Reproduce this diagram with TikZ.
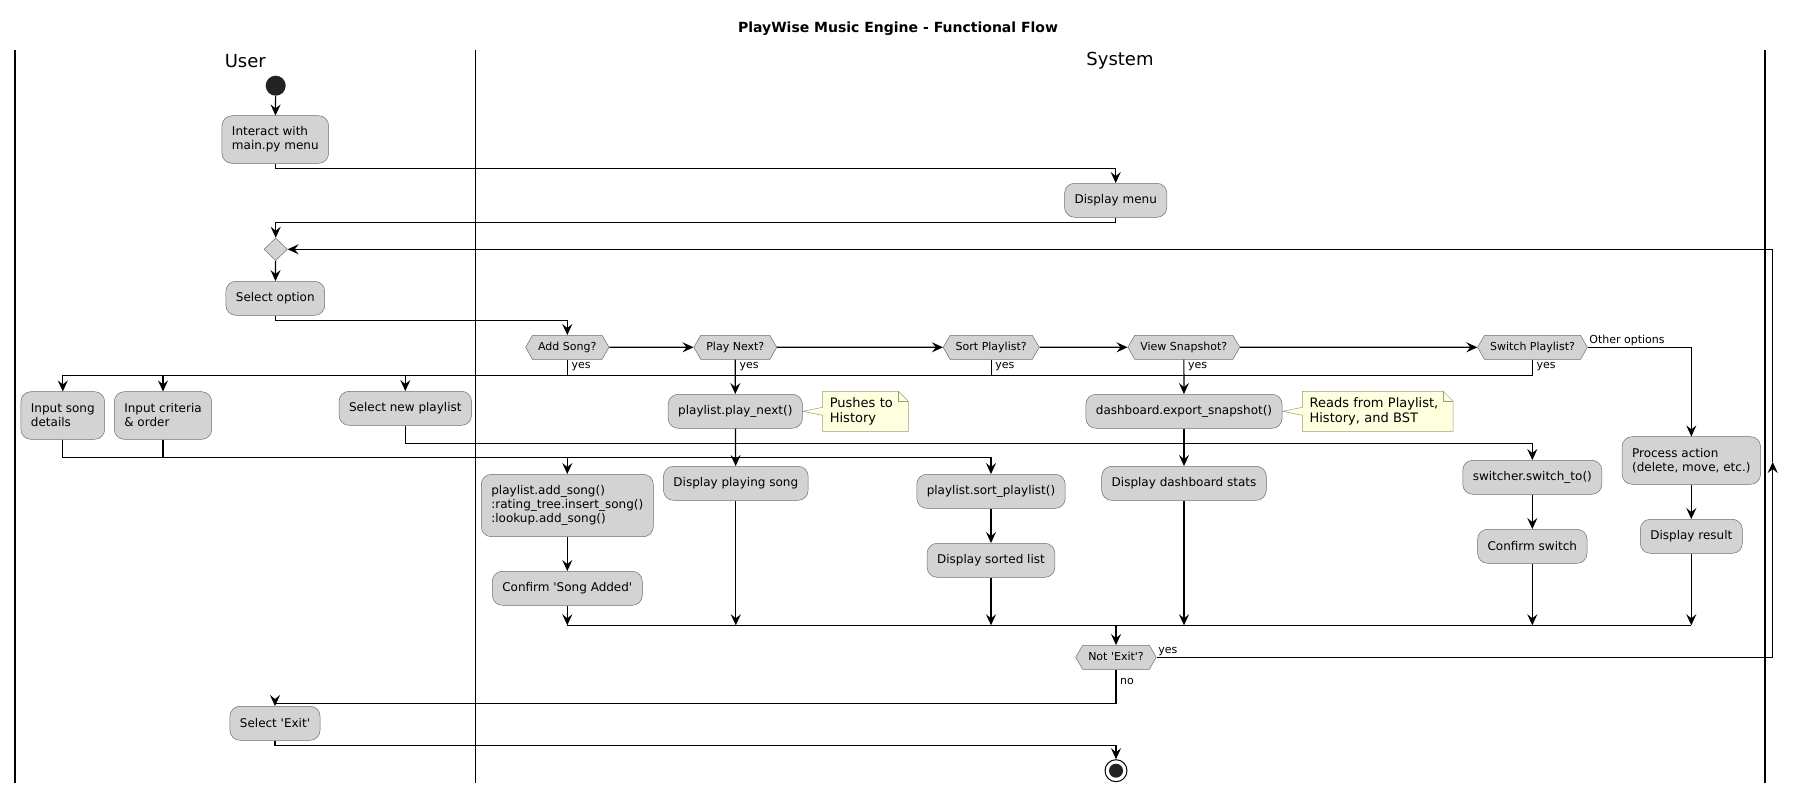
\documentclass[tikz,border=0pt]{standalone}
\usepackage{fontspec}
\setmainfont{DejaVu Sans}
\usepackage{xcolor}
\usepackage{tikz}
\usetikzlibrary{shapes.geometric, shapes.symbols, arrows.meta, positioning, calc, backgrounds}
\definecolor{actfill}{HTML}{D3D3D3}
\definecolor{actline}{HTML}{6E6E6E}
\definecolor{notefill}{HTML}{FEFFDD}
\definecolor{noteline}{HTML}{9A9A86}
\definecolor{dotblack}{HTML}{222222}
\newcommand{\squote}{\textquotesingle}

\begin{document}
\begin{tikzpicture}[
    x=1pt, y=-1pt,
    every node/.style={font=\fontsize{12}{14}\selectfont},
    act/.style={
        rectangle,
        rounded corners=10pt,
        draw=actline,
        fill=actfill,
        line width=0.5pt,
        inner xsep=10pt,
        inner ysep=0pt,
        minimum height=34pt,
        align=left
    },
    ask/.style={
        signal,
        signal to=east and west,
        signal pointer angle=120,
        draw=actline,
        fill=actfill,
        line width=0.5pt,
        font=\fontsize{11}{13}\selectfont,
        inner xsep=5.6pt,
        inner ysep=6.75pt,
        text height=8pt,
        text depth=2.5pt
    },
    merger/.style={
        diamond,
        draw=actline,
        fill=actfill,
        line width=0.5pt,
        inner sep=0pt,
        minimum width=23.4pt,
        minimum height=22.6pt
    },
    note/.style={
        inner xsep=7pt,
        inner ysep=0pt,
        minimum height=39.6pt,
        align=left,
        font=\fontsize{13}{15.3}\selectfont
    },
    tag/.style={font=\fontsize{11}{13}\selectfont, inner sep=1.5pt},
    lanetitle/.style={font=\fontsize{18}{21}\selectfont},
    flow/.style={
        -{Stealth[length=11pt, width=10pt, inset=4pt]},
        line width=1.2pt
    },
    wire/.style={line width=1.2pt},
    lane/.style={line width=1.6pt}
]
\useasboundingbox (0,0) rectangle (1797,793);

% Title and lanes
\node[font=\fontsize{14}{17}\selectfont\bfseries] (title) at (898,28.3) {PlayWise Music Engine - Functional Flow};
\node[lanetitle] (user) at (245.3,60.7) {User};
\node[lanetitle] (system) at (1120,60.7) {System};
\draw[lane] (15,50) -- (15,783);
\draw[lane] (475.5,50) -- (475.5,783);
\draw[lane] (1765,50) -- (1765,783);

% Start and menu
\node[circle, fill=dotblack, minimum size=20pt, inner sep=0pt] (start) at (275.7,85.7) {};
\node[act, minimum height=47.6pt] (interact) at (275.3,139.5) {Interact with\\main.py menu};
\node[act] (menu) at (1115.7,200.3) {Display menu};
\node[merger] (merge) at (275.7,249.3) {};
\node[act] (selopt) at (275.3,298.3) {Select option};

\draw[flow] (start) -- (interact);
\draw[flow] (interact.south) -- ++(0,4.8) -| (menu.north);
\draw[flow] (menu.south) -- ++(0,5) -| (merge.north);
\draw[flow] (merge) -- (selopt);

% Chain of questions
\node[ask] (addq) at (567.3,347.3) {Add Song?};
\node[ask] (playq) at (735.3,347.3) {Play Next?};
\node[ask] (sortq) at (991.2,347.3) {Sort Playlist?};
\node[ask] (viewq) at (1183.8,347.3) {View Snapshot?};
\node[ask] (switchq) at (1532.5,347.3) {Switch Playlist?};

\draw[flow] (selopt.south) -- ++(0,5) -| (addq.north);
\draw[flow] (addq) -- (playq);
\draw[flow] (playq) -- (sortq);
\draw[flow] (sortq) -- (viewq);
\draw[flow] (viewq) -- (switchq);

\node[tag, anchor=north west, xshift=2.5pt, yshift=-1pt] (yesadd) at (addq.south) {yes};
\node[tag, anchor=north west, xshift=2.5pt, yshift=-1pt] (yesplay) at (playq.south) {yes};
\node[tag, anchor=north west, xshift=2.5pt, yshift=-1pt] (yessort) at (sortq.south) {yes};
\node[tag, anchor=north west, xshift=2.5pt, yshift=-1pt] (yesview) at (viewq.south) {yes};
\node[tag, anchor=north west, xshift=2.5pt, yshift=-1pt] (yesswitch) at (switchq.south) {yes};
\node[tag, anchor=south west] (other) at (switchq.east) {Other options};

% User input boxes
\node[act, minimum height=47.6pt] (insong) at (62.8,415.5) {Input song\\details};
\node[act, minimum height=47.6pt] (incrit) at (163,415.5) {Input criteria\\\& order};
\node[act] (selpl) at (405.3,408.3) {Select new playlist};

\draw[flow] (addq.south) -- ++(0,16) -| (insong.north);
\draw[flow] (sortq.south) -- ++(0,16) -| (incrit.north);
\draw[flow] (switchq.south) -- ++(0,16) -| (selpl.north);

% System actions
\node[act] (playnext) at (735.3,411.3) {playlist.play\_next()};
\node[note, text width=71.4pt, right=20pt of playnext] (pushes) {Pushes to\\History};
\node[act] (dash) at (1184,411.3) {dashboard.export\_snapshot()};
\node[note, text width=136.4pt, right=20pt of dash] (reads) {Reads from Playlist,\\History, and BST};

\draw[flow] (playq) -- (playnext);
\draw[flow] (viewq) -- (dash);

\begin{scope}[on background layer]
\draw[draw=noteline, fill=notefill, line width=0.5pt]
    (pushes.north west) -- ($(pushes.west)+(0,-4)$) -- (playnext.east) -- ($(pushes.west)+(0,4)$)
    -- (pushes.south west) -- (pushes.south east) -- ($(pushes.north east)+(0,10)$)
    -- ($(pushes.north east)+(-10,0)$) -- cycle;
\draw[draw=noteline, line width=0.5pt] ($(pushes.north east)+(-10,0)$) -- ++(0,10) -- ++(10,0);
\draw[draw=noteline, fill=notefill, line width=0.5pt]
    (reads.north west) -- ($(reads.west)+(0,-4)$) -- (dash.east) -- ($(reads.west)+(0,4)$)
    -- (reads.south west) -- (reads.south east) -- ($(reads.north east)+(0,10)$)
    -- ($(reads.north east)+(-10,0)$) -- cycle;
\draw[draw=noteline, line width=0.5pt] ($(reads.north east)+(-10,0)$) -- ++(0,10) -- ++(10,0);
\end{scope}

\node[act] (playdisp) at (735.8,483.3) {Display playing song};
\node[act, minimum height=62.4pt] (addsong) at (567.3,505.5) {playlist.add\_song()\\:rating\_tree.insert\_song()\\:lookup.add\_song()};
\node[act] (confirm) at (567.3,588.3) {Confirm \squote Song Added\squote};
\node[act] (sortpl) at (991,491.3) {playlist.sort\_playlist()};
\node[act] (sortdisp) at (991,560.3) {Display sorted list};
\node[act] (dashdisp) at (1184,483.3) {Display dashboard stats};
\node[act] (switcher) at (1532.3,477.3) {switcher.switch\_to()};
\node[act] (confsw) at (1532.3,546.3) {Confirm switch};
\node[act, minimum height=47.6pt] (procact) at (1691.3,460.5) {Process action\\(delete, move, etc.)};
\node[act] (dispres) at (1691.3,536.3) {Display result};

\draw[flow] (playnext) -- (playdisp);
\draw[flow] (insong.south) -- ++(0,18) -| (addsong.north);
\draw[flow] (incrit.south) -- ++(0,18) -| (sortpl.north);
\draw[flow] (selpl.south) -- ++(0,18) -| (switcher.north);
\draw[flow] (addsong) -- (confirm);
\draw[flow] (sortpl) -- (sortdisp);
\draw[flow] (dash) -- (dashdisp);
\draw[flow] (switcher) -- (confsw);
\draw[flow] (switchq.east) -| (procact.north);
\draw[flow] (procact) -- (dispres);

% Join and exit check
\coordinate (join) at (1116,625.3);
\draw[flow] (confirm.south) -- (confirm.south |- join);
\draw[flow] (playdisp.south) -- (playdisp.south |- join);
\draw[flow] (sortdisp.south) -- (sortdisp.south |- join);
\draw[flow] (dashdisp.south) -- (dashdisp.south |- join);
\draw[flow] (confsw.south) -- (confsw.south |- join);
\draw[flow] (dispres.south) -- (dispres.south |- join);
\draw[wire] (confirm.south |- join) -- (dispres.south |- join);

\node[ask] (notexit) at (1116,657.3) {Not \squote Exit\squote?};
\draw[flow] (join) -- (notexit.north);
\node[tag, anchor=south west] (yesloop) at (notexit.east) {yes};
\node[tag, anchor=north west, xshift=2.5pt, yshift=-7pt] (noexit) at (notexit.south) {no};

% Loop back to the menu choice
\coordinate (loopmid) at (1772.7,462);
\draw[flow] (notexit.east) -| (loopmid);
\draw[flow] (loopmid) |- (merge.east);

% Exit
\node[act] (selexit) at (275,723.3) {Select \squote Exit\squote};
\node[circle, draw=black, line width=1pt, fill=white, minimum size=22pt, inner sep=0pt] (stop) at (1116,770.7) {};
\node[circle, fill=dotblack, minimum size=14pt, inner sep=0pt] (stopdot) at (stop) {};

\draw[flow] (notexit.south) -- ++(0,33.7) -| (selexit.north);
\draw[flow] (selexit.south) -- ++(0,5) -| (stop.north);

\end{tikzpicture}
\end{document}
